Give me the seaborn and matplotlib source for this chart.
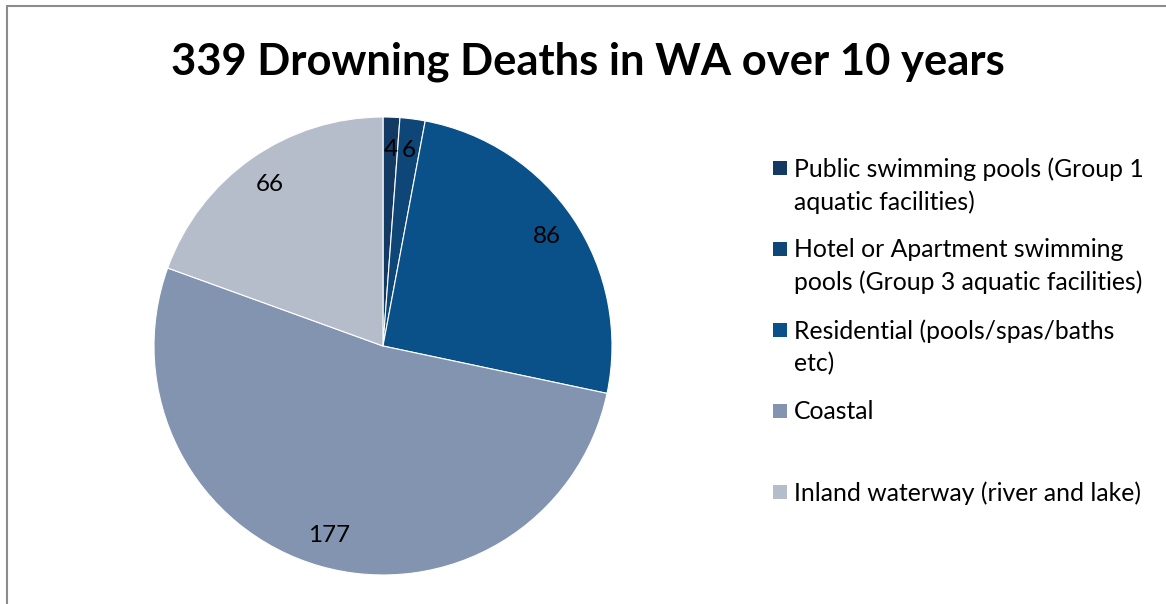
import matplotlib
matplotlib.use("Agg")
import matplotlib.pyplot as plt
import seaborn as sns
from matplotlib.patches import Rectangle

# data
categories = [
    "Public swimming pools (Group 1\naquatic facilities)",
    "Hotel or Apartment swimming\npools (Group 3 aquatic facilities)",
    "Residential (pools/spas/baths\netc)",
    "Coastal",
    "Inland waterway (river and lake)",
]
deaths = [4, 6, 86, 177, 66]
colors = ["#133A63", "#0E4677", "#0B5189", "#8394B0", "#B6BDCA"]
title = "339 Drowning Deaths in WA over 10 years"

sns.set_theme(style="white")
plt.rcParams["font.family"] = ["Lato", "DejaVu Sans"]

W, H = 1166, 604
fig = plt.figure(figsize=(W / 100, H / 100), dpi=100)

# chart frame (cropped at right and bottom)
fig.add_artist(plt.Line2D([7 / W, 7 / W], [0, 1 - 6 / H], transform=fig.transFigure,
                          color="#8c8c8c", lw=1.5))
fig.add_artist(plt.Line2D([7 / W, 1], [1 - 6 / H, 1 - 6 / H], transform=fig.transFigure,
                          color="#8c8c8c", lw=1.5))

# pie
cx, cy, r = 383, 346, 229
ax = fig.add_axes([(cx - r) / W, (H - cy - r) / H, 2 * r / W, 2 * r / H])
wedges, texts = ax.pie(deaths, labels=[str(v) for v in deaths], colors=colors,
                       startangle=90, counterclock=False, labeldistance=0.86,
                       wedgeprops=dict(edgecolor="white", linewidth=0.8),
                       textprops=dict(fontsize=17.5, color="black"))
for t in texts:
    t.set_ha("center")
    t.set_va("center")
ax.set_xlim(-1, 1)
ax.set_ylim(-1, 1)
ax.axis("off")

fig.text(588 / W, 1 - 62 / H, title, ha="center", va="center",
         fontsize=31.3, fontweight="bold", color="black")

# legend (handles aligned with first line of each label)
y0, step = 168, 81
for i, (lab, col) in enumerate(zip(categories, colors)):
    yc = y0 + i * step
    fig.add_artist(Rectangle((773 / W, 1 - (yc + 7) / H), 14 / W, 14 / H,
                             transform=fig.transFigure, facecolor=col, edgecolor="none"))
    fig.text(794 / W, 1 - (yc - 11) / H, lab, ha="left", va="top", fontsize=17.8,
             linespacing=1.5, color="black")

fig.savefig("out.png", dpi=100)
